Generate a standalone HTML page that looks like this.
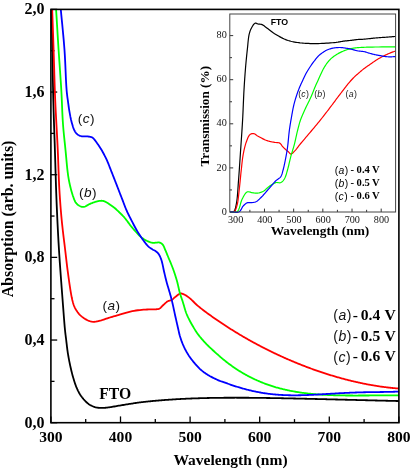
<!DOCTYPE html>
<html><head><meta charset="utf-8"><style>
html,body{margin:0;padding:0;background:#fff;width:412px;height:469px;overflow:hidden;}
svg{display:block;will-change:transform;}
</style></head><body>
<svg width="412" height="469" viewBox="0 0 412 469">
<line x1="50.90" y1="422.7" x2="50.90" y2="416.40" stroke="#000" stroke-width="1.3"/>
<line x1="85.70" y1="422.7" x2="85.70" y2="419.10" stroke="#000" stroke-width="1.3"/>
<line x1="120.50" y1="422.7" x2="120.50" y2="416.40" stroke="#000" stroke-width="1.3"/>
<line x1="155.30" y1="422.7" x2="155.30" y2="419.10" stroke="#000" stroke-width="1.3"/>
<line x1="190.10" y1="422.7" x2="190.10" y2="416.40" stroke="#000" stroke-width="1.3"/>
<line x1="224.90" y1="422.7" x2="224.90" y2="419.10" stroke="#000" stroke-width="1.3"/>
<line x1="259.70" y1="422.7" x2="259.70" y2="416.40" stroke="#000" stroke-width="1.3"/>
<line x1="294.50" y1="422.7" x2="294.50" y2="419.10" stroke="#000" stroke-width="1.3"/>
<line x1="329.30" y1="422.7" x2="329.30" y2="416.40" stroke="#000" stroke-width="1.3"/>
<line x1="364.10" y1="422.7" x2="364.10" y2="419.10" stroke="#000" stroke-width="1.3"/>
<line x1="398.90" y1="422.7" x2="398.90" y2="416.40" stroke="#000" stroke-width="1.3"/>
<line x1="50.9" y1="422.70" x2="57.20" y2="422.70" stroke="#000" stroke-width="1.3"/>
<line x1="50.9" y1="381.37" x2="54.50" y2="381.37" stroke="#000" stroke-width="1.3"/>
<line x1="50.9" y1="340.04" x2="57.20" y2="340.04" stroke="#000" stroke-width="1.3"/>
<line x1="50.9" y1="298.71" x2="54.50" y2="298.71" stroke="#000" stroke-width="1.3"/>
<line x1="50.9" y1="257.38" x2="57.20" y2="257.38" stroke="#000" stroke-width="1.3"/>
<line x1="50.9" y1="216.05" x2="54.50" y2="216.05" stroke="#000" stroke-width="1.3"/>
<line x1="50.9" y1="174.72" x2="57.20" y2="174.72" stroke="#000" stroke-width="1.3"/>
<line x1="50.9" y1="133.39" x2="54.50" y2="133.39" stroke="#000" stroke-width="1.3"/>
<line x1="50.9" y1="92.06" x2="57.20" y2="92.06" stroke="#000" stroke-width="1.3"/>
<line x1="50.9" y1="50.73" x2="54.50" y2="50.73" stroke="#000" stroke-width="1.3"/>
<line x1="50.9" y1="9.40" x2="57.20" y2="9.40" stroke="#000" stroke-width="1.3"/>
<path d="M51.60,9.50 L51.70,14.53 L51.80,19.53 L51.90,24.50 L52.00,29.48 L52.10,34.50 L52.20,39.58 L52.30,44.73 L52.40,50.00 L52.51,56.00 L52.61,62.13 L52.71,68.36 L52.81,74.67 L52.91,81.02 L53.03,87.38 L53.15,93.71 L53.30,100.00 L53.47,106.25 L53.65,112.50 L53.85,118.75 L54.06,125.00 L54.27,131.25 L54.48,137.50 L54.70,143.75 L54.90,150.00 L55.09,156.26 L55.28,162.52 L55.46,168.78 L55.65,175.05 L55.84,181.31 L56.04,187.55 L56.26,193.79 L56.50,200.00 L56.75,206.09 L57.02,212.14 L57.29,218.18 L57.58,224.21 L57.88,230.24 L58.20,236.29 L58.54,242.37 L58.90,248.50 L59.31,254.96 L59.75,261.59 L60.22,268.31 L60.71,275.02 L61.20,281.63 L61.69,288.06 L62.16,294.21 L62.60,300.00 L62.92,304.25 L63.24,308.44 L63.55,312.55 L63.85,316.51 L64.15,320.28 L64.44,323.82 L64.72,327.08 L65.00,330.00 L65.16,331.50 L65.31,332.85 L65.45,334.09 L65.60,335.26 L65.74,336.40 L65.89,337.54 L66.04,338.73 L66.20,340.00 L66.38,341.53 L66.56,343.09 L66.75,344.69 L66.93,346.31 L67.13,347.94 L67.34,349.57 L67.56,351.19 L67.80,352.80 L68.06,354.40 L68.33,356.01 L68.61,357.61 L68.90,359.21 L69.21,360.81 L69.53,362.41 L69.86,364.01 L70.20,365.60 L70.56,367.20 L70.92,368.81 L71.30,370.42 L71.69,372.02 L72.09,373.61 L72.51,375.20 L72.95,376.76 L73.40,378.30 L73.85,379.76 L74.30,381.22 L74.77,382.67 L75.25,384.10 L75.75,385.51 L76.27,386.88 L76.82,388.22 L77.40,389.50 L77.93,390.60 L78.48,391.66 L79.04,392.70 L79.62,393.71 L80.23,394.69 L80.86,395.65 L81.51,396.58 L82.20,397.50 L82.91,398.39 L83.64,399.27 L84.41,400.14 L85.19,400.98 L86.00,401.78 L86.82,402.54 L87.66,403.25 L88.50,403.90 L89.27,404.43 L90.06,404.92 L90.87,405.38 L91.68,405.80 L92.50,406.18 L93.31,406.53 L94.12,406.83 L94.90,407.10 L95.55,407.29 L96.20,407.45 L96.84,407.57 L97.47,407.67 L98.10,407.74 L98.73,407.81 L99.37,407.86 L100.00,407.90 L100.63,407.93 L101.25,407.95 L101.88,407.95 L102.50,407.94 L103.13,407.91 L103.75,407.88 L104.38,407.84 L105.00,407.80 L105.62,407.75 L106.22,407.70 L106.82,407.63 L107.42,407.56 L108.03,407.48 L108.66,407.39 L109.31,407.30 L110.00,407.20 L110.97,407.05 L112.01,406.88 L113.09,406.69 L114.20,406.49 L115.33,406.29 L116.47,406.09 L117.60,405.89 L118.70,405.70 L119.79,405.52 L120.89,405.34 L121.99,405.16 L123.09,404.99 L124.18,404.81 L125.27,404.64 L126.34,404.47 L127.40,404.30 L128.39,404.14 L129.37,403.98 L130.36,403.83 L131.33,403.67 L132.29,403.52 L133.22,403.37 L134.13,403.23 L135.00,403.10 L135.67,403.00 L136.31,402.90 L136.93,402.81 L137.54,402.72 L138.14,402.63 L138.74,402.55 L139.36,402.46 L140.00,402.38 L140.72,402.29 L141.46,402.20 L142.21,402.11 L142.96,402.03 L143.73,401.95 L144.49,401.86 L145.25,401.78 L146.00,401.70 L146.75,401.62 L147.50,401.54 L148.25,401.47 L149.00,401.39 L149.75,401.31 L150.50,401.24 L151.25,401.16 L152.00,401.09 L152.75,401.02 L153.50,400.95 L154.25,400.88 L155.00,400.81 L155.75,400.74 L156.50,400.68 L157.25,400.61 L158.00,400.55 L158.75,400.48 L159.50,400.42 L160.25,400.36 L161.00,400.30 L161.75,400.24 L162.50,400.18 L163.25,400.12 L164.00,400.06 L164.75,400.00 L165.50,399.95 L166.25,399.89 L167.00,399.84 L167.75,399.78 L168.50,399.73 L169.25,399.68 L170.00,399.63 L170.75,399.58 L171.50,399.53 L172.25,399.48 L173.00,399.44 L173.75,399.39 L174.50,399.34 L175.25,399.30 L176.00,399.25 L176.75,399.21 L177.50,399.17 L178.25,399.12 L179.00,399.08 L179.75,399.04 L180.50,399.00 L181.25,398.96 L182.00,398.93 L182.75,398.89 L183.50,398.85 L184.25,398.82 L185.00,398.78 L185.75,398.75 L186.50,398.71 L187.25,398.68 L188.00,398.65 L188.75,398.61 L189.50,398.58 L190.25,398.55 L191.00,398.52 L191.75,398.49 L192.50,398.46 L193.25,398.44 L194.00,398.41 L194.75,398.38 L195.50,398.36 L196.25,398.33 L197.00,398.30 L197.75,398.28 L198.50,398.26 L199.25,398.23 L200.00,398.21 L200.75,398.19 L201.50,398.17 L202.25,398.15 L203.00,398.13 L203.75,398.11 L204.50,398.09 L205.25,398.07 L206.00,398.05 L206.75,398.03 L207.50,398.02 L208.25,398.00 L209.00,397.99 L209.75,397.97 L210.50,397.96 L211.25,397.94 L212.00,397.93 L212.75,397.91 L213.50,397.90 L214.25,397.89 L215.00,397.88 L215.75,397.87 L216.50,397.86 L217.25,397.84 L218.00,397.83 L218.75,397.83 L219.50,397.82 L220.25,397.81 L221.00,397.80 L221.75,397.79 L222.50,397.79 L223.25,397.78 L224.00,397.77 L224.75,397.77 L225.50,397.76 L226.25,397.76 L227.00,397.75 L227.75,397.75 L228.50,397.74 L229.25,397.74 L230.00,397.74 L230.75,397.73 L231.50,397.73 L232.25,397.73 L233.00,397.73 L233.75,397.73 L234.50,397.73 L235.25,397.72 L236.00,397.72 L236.75,397.73 L237.50,397.73 L238.25,397.73 L239.00,397.73 L239.75,397.73 L240.50,397.73 L241.25,397.73 L242.00,397.74 L242.75,397.74 L243.50,397.74 L244.25,397.75 L245.00,397.75 L245.75,397.75 L246.50,397.76 L247.25,397.76 L248.00,397.77 L248.75,397.77 L249.50,397.78 L250.25,397.78 L251.00,397.79 L251.75,397.80 L252.50,397.80 L253.25,397.81 L254.00,397.82 L254.75,397.82 L255.50,397.83 L256.25,397.84 L257.00,397.85 L257.75,397.86 L258.50,397.87 L259.25,397.87 L260.00,397.88 L260.75,397.89 L261.50,397.90 L262.25,397.91 L263.00,397.92 L263.75,397.93 L264.50,397.94 L265.25,397.95 L266.00,397.96 L266.75,397.98 L267.50,397.99 L268.25,398.00 L269.00,398.01 L269.75,398.02 L270.50,398.03 L271.25,398.05 L272.00,398.06 L272.75,398.07 L273.50,398.08 L274.25,398.10 L275.00,398.11 L275.75,398.12 L276.50,398.14 L277.25,398.15 L278.00,398.16 L278.75,398.18 L279.50,398.19 L280.25,398.20 L281.00,398.22 L281.75,398.23 L282.50,398.25 L283.25,398.26 L284.00,398.28 L284.75,398.29 L285.50,398.31 L286.25,398.32 L287.00,398.34 L287.75,398.35 L288.50,398.37 L289.25,398.38 L290.00,398.40 L290.75,398.42 L291.50,398.43 L292.25,398.45 L293.00,398.46 L293.75,398.48 L294.50,398.50 L295.25,398.51 L296.00,398.53 L296.75,398.55 L297.50,398.56 L298.25,398.58 L299.00,398.60 L299.75,398.61 L300.50,398.63 L301.25,398.65 L302.00,398.66 L302.75,398.68 L303.50,398.70 L304.25,398.72 L305.00,398.73 L305.75,398.75 L306.50,398.77 L307.25,398.79 L308.00,398.80 L308.75,398.82 L309.50,398.84 L310.25,398.86 L311.00,398.88 L311.75,398.89 L312.50,398.91 L313.25,398.93 L314.00,398.95 L314.75,398.97 L315.50,398.98 L316.25,399.00 L317.00,399.02 L317.75,399.04 L318.50,399.06 L319.25,399.08 L320.00,399.09 L320.75,399.11 L321.50,399.13 L322.25,399.15 L323.00,399.17 L323.75,399.19 L324.50,399.21 L325.25,399.22 L326.00,399.24 L326.75,399.26 L327.50,399.28 L328.25,399.30 L329.00,399.32 L329.75,399.34 L330.50,399.35 L331.25,399.37 L332.00,399.39 L332.75,399.41 L333.50,399.43 L334.25,399.45 L335.00,399.47 L335.75,399.49 L336.50,399.50 L337.25,399.52 L338.00,399.54 L338.75,399.56 L339.50,399.58 L340.25,399.60 L341.00,399.62 L341.75,399.64 L342.50,399.66 L343.25,399.67 L344.00,399.69 L344.75,399.71 L345.50,399.73 L346.25,399.75 L347.00,399.77 L347.75,399.79 L348.50,399.81 L349.25,399.82 L350.00,399.84 L350.75,399.86 L351.50,399.88 L352.25,399.90 L353.00,399.92 L353.75,399.94 L354.50,399.96 L355.25,399.97 L356.00,399.99 L356.75,400.01 L357.50,400.03 L358.25,400.05 L359.00,400.07 L359.75,400.09 L360.50,400.11 L361.25,400.12 L362.00,400.14 L362.75,400.16 L363.50,400.18 L364.25,400.20 L365.00,400.22 L365.75,400.24 L366.50,400.25 L367.25,400.27 L368.00,400.29 L368.75,400.31 L369.50,400.33 L370.25,400.35 L371.00,400.37 L371.75,400.38 L372.50,400.40 L373.25,400.42 L374.00,400.44 L374.75,400.46 L375.50,400.48 L376.25,400.50 L377.00,400.51 L377.75,400.53 L378.50,400.55 L379.25,400.57 L380.00,400.59 L380.75,400.61 L381.50,400.63 L382.25,400.64 L383.00,400.66 L383.75,400.68 L384.50,400.70 L385.25,400.72 L386.00,400.74 L386.75,400.76 L387.50,400.77 L388.25,400.79 L389.00,400.81 L389.75,400.83 L390.50,400.85 L391.25,400.87 L392.00,400.89 L392.79,400.91 L393.62,400.93 L394.48,400.95 L395.33,400.97 L396.14,400.99 L396.87,401.01 L397.50,401.02 L398.00,401.04 L398.15,401.04 L398.28,401.04 L398.40,401.05 L398.50,401.05 L398.60,401.05 L398.69,401.05 L398.79,401.05 L398.90,401.06" fill="none" stroke="#000" stroke-width="1.8" stroke-linejoin="round"/>
<path d="M52.20,9.50 L52.37,14.53 L52.55,19.53 L52.72,24.50 L52.90,29.48 L53.07,34.50 L53.25,39.58 L53.42,44.73 L53.60,50.00 L53.79,56.00 L53.97,62.15 L54.16,68.40 L54.34,74.72 L54.53,81.08 L54.73,87.43 L54.95,93.75 L55.20,100.00 L55.47,106.12 L55.78,112.27 L56.10,118.41 L56.44,124.53 L56.77,130.62 L57.10,136.66 L57.41,142.62 L57.70,148.50 L57.93,153.89 L58.14,159.26 L58.33,164.60 L58.52,169.87 L58.71,175.07 L58.91,180.18 L59.14,185.16 L59.40,190.00 L59.64,193.99 L59.89,197.86 L60.16,201.64 L60.43,205.36 L60.72,209.03 L61.03,212.67 L61.35,216.32 L61.70,220.00 L62.06,223.60 L62.45,227.17 L62.85,230.73 L63.27,234.28 L63.70,237.82 L64.13,241.37 L64.57,244.93 L65.00,248.50 L65.43,252.16 L65.87,255.87 L66.30,259.60 L66.74,263.33 L67.19,267.03 L67.65,270.67 L68.12,274.24 L68.60,277.70 L69.03,280.72 L69.48,283.78 L69.93,286.83 L70.39,289.81 L70.85,292.68 L71.33,295.37 L71.81,297.82 L72.30,300.00 L72.58,301.12 L72.84,302.13 L73.09,303.07 L73.36,303.94 L73.64,304.78 L73.95,305.61 L74.30,306.44 L74.70,307.30 L75.18,308.25 L75.70,309.21 L76.26,310.17 L76.86,311.11 L77.49,312.03 L78.16,312.93 L78.86,313.79 L79.60,314.60 L80.39,315.38 L81.24,316.15 L82.13,316.88 L83.06,317.59 L84.00,318.25 L84.95,318.86 L85.88,319.41 L86.80,319.90 L87.56,320.27 L88.31,320.61 L89.06,320.91 L89.81,321.18 L90.56,321.40 L91.33,321.58 L92.11,321.72 L92.90,321.80 L93.77,321.82 L94.65,321.77 L95.54,321.65 L96.45,321.49 L97.36,321.30 L98.29,321.07 L99.24,320.84 L100.20,320.60 L101.35,320.30 L102.54,319.95 L103.75,319.56 L104.97,319.15 L106.21,318.72 L107.44,318.30 L108.68,317.89 L109.90,317.50 L111.10,317.14 L112.28,316.79 L113.45,316.44 L114.62,316.10 L115.82,315.76 L117.04,315.42 L118.29,315.07 L119.60,314.70 L121.27,314.22 L123.01,313.70 L124.81,313.17 L126.65,312.63 L128.51,312.10 L130.39,311.61 L132.25,311.17 L134.10,310.80 L135.95,310.50 L137.85,310.24 L139.77,310.03 L141.69,309.86 L143.58,309.71 L145.39,309.59 L147.11,309.49 L148.70,309.40 L149.75,309.36 L150.76,309.35 L151.74,309.36 L152.67,309.37 L153.57,309.38 L154.42,309.38 L155.23,309.36 L156.00,309.30 L156.50,309.25 L156.98,309.21 L157.43,309.16 L157.87,309.10 L158.28,309.03 L158.69,308.92 L159.10,308.78 L159.50,308.60 L159.94,308.33 L160.35,308.01 L160.75,307.63 L161.14,307.23 L161.53,306.80 L161.93,306.36 L162.35,305.92 L162.80,305.50 L163.38,304.97 L164.00,304.40 L164.63,303.80 L165.29,303.20 L165.95,302.62 L166.61,302.08 L167.27,301.60 L167.90,301.20 L168.38,300.96 L168.87,300.78 L169.35,300.65 L169.83,300.53 L170.30,300.42 L170.77,300.29 L171.24,300.12 L171.70,299.90 L172.20,299.59 L172.68,299.22 L173.16,298.82 L173.63,298.40 L174.10,297.96 L174.58,297.52 L175.08,297.10 L175.60,296.70 L176.19,296.25 L176.81,295.75 L177.44,295.24 L178.08,294.75 L178.73,294.30 L179.39,293.92 L180.04,293.64 L180.70,293.50 L181.33,293.50 L181.97,293.60 L182.61,293.79 L183.26,294.05 L183.90,294.36 L184.55,294.70 L185.18,295.06 L185.80,295.40 L186.46,295.78 L187.10,296.19 L187.74,296.64 L188.37,297.11 L189.00,297.61 L189.63,298.12 L190.26,298.66 L190.90,299.20 L191.63,299.85 L192.36,300.54 L193.09,301.26 L193.81,302.00 L194.56,302.76 L195.31,303.51 L196.09,304.26 L196.90,305.00 L197.85,305.82 L198.85,306.66 L199.88,307.50 L200.92,308.33 L201.98,309.16 L203.02,309.97 L204.03,310.75 L205.00,311.49 L205.79,312.09 L206.55,312.65 L207.31,313.20 L208.05,313.74 L208.78,314.27 L209.52,314.79 L210.25,315.31 L211.00,315.84 L211.75,316.37 L212.50,316.90 L213.25,317.43 L214.00,317.96 L214.75,318.48 L215.50,319.00 L216.25,319.52 L217.00,320.04 L217.75,320.55 L218.50,321.06 L219.25,321.57 L220.00,322.07 L220.75,322.58 L221.50,323.08 L222.25,323.58 L223.00,324.08 L223.75,324.57 L224.50,325.06 L225.25,325.55 L226.00,326.04 L226.75,326.53 L227.50,327.01 L228.25,327.49 L229.00,327.97 L229.75,328.45 L230.50,328.92 L231.25,329.39 L232.00,329.86 L232.75,330.33 L233.50,330.80 L234.25,331.26 L235.00,331.73 L235.75,332.18 L236.50,332.64 L237.25,333.10 L238.00,333.55 L238.75,334.00 L239.50,334.45 L240.25,334.90 L241.00,335.34 L241.75,335.78 L242.50,336.22 L243.25,336.66 L244.00,337.10 L244.75,337.53 L245.50,337.97 L246.25,338.40 L247.00,338.83 L247.75,339.25 L248.50,339.67 L249.25,340.10 L250.00,340.52 L250.75,340.94 L251.50,341.35 L252.25,341.77 L253.00,342.18 L253.75,342.59 L254.50,343.00 L255.25,343.40 L256.00,343.81 L256.75,344.21 L257.50,344.61 L258.25,345.01 L259.00,345.41 L259.75,345.80 L260.50,346.20 L261.25,346.59 L262.00,346.98 L262.75,347.37 L263.50,347.75 L264.25,348.14 L265.00,348.52 L265.75,348.90 L266.50,349.28 L267.25,349.65 L268.00,350.03 L268.75,350.40 L269.50,350.77 L270.25,351.14 L271.00,351.51 L271.75,351.87 L272.50,352.24 L273.25,352.60 L274.00,352.96 L274.75,353.32 L275.50,353.67 L276.25,354.03 L277.00,354.38 L277.75,354.73 L278.50,355.08 L279.25,355.43 L280.00,355.77 L280.75,356.12 L281.50,356.46 L282.25,356.80 L283.00,357.14 L283.75,357.48 L284.50,357.81 L285.25,358.14 L286.00,358.48 L286.75,358.81 L287.50,359.13 L288.25,359.46 L289.00,359.79 L289.75,360.11 L290.50,360.43 L291.25,360.75 L292.00,361.07 L292.75,361.38 L293.50,361.70 L294.25,362.01 L295.00,362.32 L295.75,362.63 L296.50,362.94 L297.25,363.25 L298.00,363.55 L298.75,363.85 L299.50,364.15 L300.25,364.45 L301.00,364.75 L301.75,365.05 L302.50,365.34 L303.25,365.63 L304.00,365.92 L304.75,366.21 L305.50,366.50 L306.25,366.79 L307.00,367.07 L307.75,367.35 L308.50,367.63 L309.25,367.91 L310.00,368.19 L310.75,368.47 L311.50,368.74 L312.25,369.01 L313.00,369.28 L313.75,369.55 L314.50,369.82 L315.25,370.08 L316.00,370.35 L316.75,370.61 L317.50,370.87 L318.25,371.13 L319.00,371.39 L319.75,371.64 L320.50,371.90 L321.25,372.15 L322.00,372.40 L322.75,372.65 L323.50,372.89 L324.25,373.14 L325.00,373.38 L325.75,373.63 L326.50,373.87 L327.25,374.10 L328.00,374.34 L328.75,374.58 L329.50,374.81 L330.25,375.04 L331.00,375.27 L331.75,375.50 L332.50,375.73 L333.25,375.95 L334.00,376.18 L334.75,376.40 L335.50,376.62 L336.25,376.84 L337.00,377.05 L337.75,377.27 L338.50,377.48 L339.25,377.69 L340.00,377.90 L340.75,378.11 L341.50,378.31 L342.25,378.52 L343.00,378.72 L343.75,378.92 L344.50,379.12 L345.25,379.32 L346.00,379.51 L346.75,379.71 L347.50,379.90 L348.25,380.09 L349.00,380.28 L349.75,380.46 L350.50,380.65 L351.25,380.83 L352.00,381.01 L352.75,381.19 L353.50,381.37 L354.25,381.55 L355.00,381.72 L355.75,381.89 L356.50,382.06 L357.25,382.23 L358.00,382.40 L358.75,382.56 L359.50,382.73 L360.25,382.89 L361.00,383.05 L361.75,383.20 L362.50,383.36 L363.25,383.51 L364.00,383.67 L364.75,383.82 L365.50,383.96 L366.25,384.11 L367.00,384.26 L367.75,384.40 L368.50,384.54 L369.25,384.68 L370.00,384.81 L370.75,384.95 L371.50,385.08 L372.25,385.21 L373.00,385.34 L373.75,385.47 L374.50,385.59 L375.25,385.72 L376.00,385.84 L376.75,385.96 L377.50,386.08 L378.25,386.19 L379.00,386.30 L379.75,386.41 L380.50,386.52 L381.25,386.63 L382.00,386.74 L382.75,386.84 L383.50,386.94 L384.25,387.04 L385.00,387.14 L385.75,387.23 L386.50,387.32 L387.25,387.41 L388.00,387.50 L388.75,387.59 L389.50,387.67 L390.25,387.76 L391.00,387.84 L391.77,387.92 L392.58,388.00 L393.40,388.07 L394.21,388.15 L395.00,388.22 L395.74,388.29 L396.41,388.35 L397.00,388.40 L397.29,388.42 L397.55,388.45 L397.79,388.46 L398.02,388.48 L398.23,388.50 L398.45,388.51 L398.67,388.53 L398.90,388.55" fill="none" stroke="#ff0000" stroke-width="1.8" stroke-linejoin="round"/>
<path d="M56.10,9.50 L56.41,14.56 L56.72,19.63 L57.03,24.70 L57.34,29.77 L57.65,34.83 L57.96,39.89 L58.28,44.95 L58.60,50.00 L58.93,55.03 L59.28,60.09 L59.64,65.15 L59.99,70.21 L60.34,75.23 L60.68,80.22 L61.00,85.15 L61.30,90.00 L61.54,94.45 L61.75,98.88 L61.94,103.27 L62.12,107.63 L62.30,111.92 L62.50,116.14 L62.73,120.27 L63.00,124.30 L63.27,127.70 L63.56,131.00 L63.87,134.24 L64.19,137.42 L64.52,140.57 L64.85,143.70 L65.18,146.84 L65.50,150.00 L65.80,153.16 L66.10,156.40 L66.40,159.67 L66.70,162.91 L67.00,166.08 L67.32,169.11 L67.65,171.97 L68.00,174.60 L68.25,176.27 L68.50,177.83 L68.76,179.31 L69.02,180.73 L69.29,182.11 L69.58,183.46 L69.88,184.82 L70.20,186.20 L70.52,187.53 L70.85,188.86 L71.20,190.19 L71.56,191.50 L71.93,192.79 L72.31,194.04 L72.70,195.25 L73.10,196.40 L73.42,197.31 L73.74,198.21 L74.06,199.08 L74.38,199.93 L74.73,200.74 L75.11,201.51 L75.53,202.23 L76.00,202.90 L76.47,203.45 L76.98,203.97 L77.52,204.47 L78.09,204.92 L78.67,205.34 L79.26,205.71 L79.84,206.03 L80.40,206.30 L80.85,206.48 L81.29,206.64 L81.73,206.77 L82.17,206.87 L82.62,206.93 L83.07,206.96 L83.53,206.95 L84.00,206.90 L84.61,206.75 L85.24,206.49 L85.89,206.16 L86.55,205.78 L87.20,205.38 L87.85,204.98 L88.49,204.61 L89.10,204.30 L89.61,204.07 L90.10,203.85 L90.59,203.64 L91.07,203.44 L91.55,203.25 L92.03,203.07 L92.51,202.88 L93.00,202.70 L93.50,202.52 L94.00,202.34 L94.50,202.16 L95.01,201.99 L95.51,201.83 L96.01,201.67 L96.51,201.53 L97.00,201.40 L97.45,201.29 L97.89,201.19 L98.34,201.10 L98.78,201.01 L99.21,200.94 L99.65,200.88 L100.08,200.83 L100.50,200.80 L100.89,200.78 L101.27,200.77 L101.64,200.77 L102.02,200.78 L102.39,200.81 L102.76,200.85 L103.13,200.92 L103.50,201.00 L103.90,201.12 L104.30,201.27 L104.70,201.44 L105.09,201.63 L105.49,201.83 L105.89,202.05 L106.29,202.27 L106.70,202.50 L107.17,202.77 L107.64,203.06 L108.11,203.37 L108.59,203.68 L109.07,204.01 L109.55,204.34 L110.02,204.67 L110.50,205.00 L110.99,205.33 L111.47,205.66 L111.96,206.00 L112.44,206.33 L112.93,206.68 L113.42,207.04 L113.91,207.41 L114.40,207.80 L114.97,208.27 L115.54,208.76 L116.11,209.27 L116.68,209.80 L117.26,210.33 L117.84,210.88 L118.42,211.44 L119.00,212.00 L119.63,212.61 L120.28,213.23 L120.92,213.86 L121.57,214.51 L122.21,215.16 L122.85,215.83 L123.48,216.51 L124.10,217.20 L124.75,217.97 L125.42,218.79 L126.08,219.63 L126.74,220.49 L127.37,221.32 L127.97,222.12 L128.51,222.85 L129.00,223.50 L129.25,223.83 L129.46,224.13 L129.66,224.40 L129.84,224.66 L130.02,224.91 L130.22,225.18 L130.44,225.47 L130.70,225.80 L131.21,226.44 L131.80,227.16 L132.45,227.94 L133.14,228.76 L133.86,229.59 L134.58,230.43 L135.30,231.24 L136.00,232.00 L136.66,232.72 L137.32,233.43 L137.98,234.15 L138.65,234.85 L139.33,235.54 L140.01,236.19 L140.70,236.82 L141.40,237.40 L142.04,237.89 L142.69,238.36 L143.35,238.80 L144.01,239.22 L144.68,239.62 L145.35,240.00 L146.02,240.36 L146.70,240.70 L147.35,241.02 L148.02,241.33 L148.70,241.63 L149.37,241.91 L150.04,242.16 L150.71,242.38 L151.36,242.56 L152.00,242.70 L152.52,242.77 L153.04,242.81 L153.54,242.82 L154.05,242.81 L154.54,242.78 L155.03,242.75 L155.52,242.72 L156.00,242.70 L156.44,242.67 L156.88,242.61 L157.31,242.55 L157.74,242.48 L158.16,242.43 L158.58,242.41 L158.99,242.43 L159.40,242.50 L159.84,242.63 L160.28,242.81 L160.71,243.03 L161.14,243.28 L161.56,243.56 L161.96,243.88 L162.34,244.23 L162.70,244.60 L163.09,245.10 L163.44,245.67 L163.76,246.30 L164.05,246.96 L164.33,247.66 L164.61,248.37 L164.90,249.09 L165.20,249.80 L165.57,250.63 L165.93,251.47 L166.29,252.33 L166.65,253.21 L167.02,254.11 L167.40,255.05 L167.79,256.01 L168.20,257.00 L168.75,258.33 L169.34,259.74 L169.96,261.20 L170.59,262.71 L171.22,264.23 L171.84,265.77 L172.43,267.30 L173.00,268.80 L173.53,270.27 L174.06,271.75 L174.56,273.22 L175.06,274.70 L175.54,276.19 L176.01,277.68 L176.46,279.18 L176.90,280.70 L177.33,282.29 L177.73,283.94 L178.12,285.60 L178.49,287.27 L178.86,288.92 L179.23,290.52 L179.61,292.06 L180.00,293.50 L180.31,294.55 L180.63,295.52 L180.94,296.45 L181.26,297.36 L181.59,298.26 L181.91,299.18 L182.25,300.16 L182.60,301.20 L183.05,302.66 L183.51,304.21 L183.98,305.84 L184.45,307.51 L184.95,309.19 L185.47,310.85 L186.02,312.46 L186.60,314.00 L187.17,315.35 L187.75,316.66 L188.36,317.95 L189.00,319.21 L189.65,320.46 L190.32,321.71 L191.00,322.95 L191.70,324.20 L192.43,325.50 L193.19,326.80 L193.95,328.10 L194.74,329.39 L195.55,330.67 L196.38,331.94 L197.23,333.18 L198.10,334.40 L199.00,335.59 L199.93,336.77 L200.89,337.93 L201.87,339.08 L202.86,340.20 L203.85,341.30 L204.83,342.36 L205.80,343.40 L206.65,344.29 L207.51,345.16 L208.36,346.00 L209.21,346.82 L210.06,347.63 L210.90,348.42 L211.75,349.21 L212.60,350.00 L213.43,350.77 L214.29,351.54 L215.15,352.32 L216.01,353.08 L216.85,353.82 L217.66,354.53 L218.41,355.19 L219.10,355.80 L219.51,356.16 L219.88,356.49 L220.22,356.80 L220.55,357.09 L220.88,357.38 L221.22,357.67 L221.59,357.99 L222.00,358.33 L222.64,358.87 L223.34,359.44 L224.08,360.04 L224.85,360.66 L225.64,361.29 L226.44,361.92 L227.23,362.54 L228.00,363.13 L228.74,363.69 L229.49,364.25 L230.24,364.80 L230.99,365.34 L231.74,365.88 L232.49,366.42 L233.24,366.94 L234.00,367.47 L234.74,367.97 L235.49,368.48 L236.24,368.97 L236.99,369.47 L237.74,369.95 L238.49,370.43 L239.24,370.91 L240.00,371.38 L240.75,371.83 L241.49,372.29 L242.24,372.73 L242.99,373.17 L243.74,373.61 L244.49,374.04 L245.25,374.47 L246.00,374.89 L246.75,375.30 L247.49,375.70 L248.24,376.10 L248.99,376.49 L249.74,376.88 L250.49,377.27 L251.25,377.65 L252.00,378.02 L252.75,378.38 L253.49,378.74 L254.24,379.10 L254.99,379.45 L255.74,379.80 L256.49,380.14 L257.25,380.47 L258.00,380.80 L258.75,381.13 L259.49,381.45 L260.24,381.76 L260.99,382.07 L261.74,382.37 L262.50,382.67 L263.25,382.97 L264.00,383.26 L264.75,383.55 L265.50,383.83 L266.24,384.10 L266.99,384.37 L267.74,384.64 L268.50,384.90 L269.25,385.16 L270.00,385.42 L270.75,385.67 L271.50,385.91 L272.25,386.15 L273.00,386.39 L273.75,386.62 L274.50,386.85 L275.25,387.07 L276.00,387.30 L276.75,387.51 L277.50,387.72 L278.25,387.93 L279.00,388.14 L279.75,388.34 L280.50,388.53 L281.25,388.73 L282.00,388.92 L282.75,389.10 L283.50,389.28 L284.25,389.46 L285.00,389.64 L285.75,389.81 L286.50,389.98 L287.25,390.14 L288.00,390.30 L288.75,390.46 L289.50,390.62 L290.25,390.77 L291.00,390.91 L291.75,391.06 L292.50,391.20 L293.25,391.34 L294.00,391.48 L294.75,391.61 L295.50,391.74 L296.25,391.86 L297.00,391.99 L297.75,392.11 L298.50,392.23 L299.25,392.34 L300.00,392.46 L300.75,392.57 L301.50,392.67 L302.25,392.78 L303.00,392.88 L303.75,392.98 L304.50,393.07 L305.25,393.17 L306.00,393.26 L306.75,393.35 L307.50,393.44 L308.25,393.52 L309.00,393.60 L309.75,393.68 L310.50,393.76 L311.25,393.84 L312.00,393.91 L312.75,393.98 L313.50,394.05 L314.25,394.12 L315.00,394.18 L315.75,394.25 L316.50,394.31 L317.25,394.37 L318.00,394.42 L318.75,394.48 L319.50,394.53 L320.25,394.58 L321.00,394.63 L321.75,394.68 L322.50,394.73 L323.25,394.77 L324.00,394.81 L324.75,394.86 L325.50,394.90 L326.25,394.93 L327.00,394.97 L327.75,395.01 L328.50,395.04 L329.25,395.07 L330.00,395.10 L330.75,395.13 L331.50,395.16 L332.25,395.19 L333.00,395.21 L333.75,395.24 L334.50,395.26 L335.25,395.28 L336.00,395.30 L336.75,395.32 L337.50,395.34 L338.25,395.36 L339.00,395.38 L339.75,395.39 L340.50,395.41 L341.25,395.42 L342.00,395.43 L342.75,395.44 L343.50,395.46 L344.25,395.46 L345.00,395.47 L345.75,395.48 L346.50,395.49 L347.25,395.50 L348.00,395.50 L348.75,395.51 L349.50,395.51 L350.25,395.52 L351.00,395.52 L351.75,395.52 L352.50,395.52 L353.25,395.53 L354.00,395.53 L354.75,395.53 L355.50,395.53 L356.25,395.53 L357.00,395.53 L357.75,395.53 L358.50,395.52 L359.25,395.52 L360.00,395.52 L360.75,395.52 L361.50,395.52 L362.25,395.51 L363.00,395.51 L363.75,395.51 L364.50,395.50 L365.25,395.50 L366.00,395.49 L366.75,395.49 L367.50,395.49 L368.25,395.48 L369.00,395.48 L369.75,395.47 L370.50,395.47 L371.25,395.46 L372.00,395.46 L372.75,395.45 L373.50,395.45 L374.25,395.45 L375.00,395.44 L375.75,395.44 L376.50,395.43 L377.25,395.43 L378.00,395.43 L378.75,395.42 L379.50,395.42 L380.25,395.42 L381.00,395.41 L381.75,395.41 L382.50,395.41 L383.25,395.41 L384.00,395.41 L384.75,395.41 L385.50,395.40 L386.25,395.40 L387.00,395.40 L387.75,395.40 L388.50,395.40 L389.25,395.41 L390.00,395.41 L390.76,395.41 L391.55,395.41 L392.34,395.42 L393.13,395.42 L393.91,395.43 L394.65,395.43 L395.35,395.43 L396.00,395.44 L396.41,395.44 L396.80,395.45 L397.16,395.45 L397.52,395.45 L397.86,395.46 L398.20,395.46 L398.54,395.46 L398.90,395.47" fill="none" stroke="#00ff00" stroke-width="1.8" stroke-linejoin="round"/>
<path d="M60.80,9.50 L61.27,14.56 L61.76,19.63 L62.26,24.70 L62.75,29.76 L63.23,34.83 L63.69,39.89 L64.11,44.95 L64.50,50.00 L64.83,55.17 L65.12,60.58 L65.37,66.07 L65.61,71.52 L65.83,76.77 L66.07,81.70 L66.32,86.15 L66.60,90.00 L66.76,91.79 L66.93,93.41 L67.10,94.90 L67.28,96.29 L67.45,97.61 L67.63,98.92 L67.81,100.23 L68.00,101.60 L68.17,102.91 L68.35,104.20 L68.52,105.48 L68.70,106.75 L68.89,108.01 L69.08,109.27 L69.28,110.53 L69.50,111.80 L69.73,113.08 L69.96,114.37 L70.20,115.67 L70.44,116.96 L70.71,118.24 L70.98,119.52 L71.28,120.77 L71.60,122.00 L71.92,123.17 L72.25,124.36 L72.60,125.55 L72.96,126.72 L73.34,127.85 L73.74,128.92 L74.16,129.91 L74.60,130.80 L74.92,131.36 L75.25,131.89 L75.58,132.38 L75.92,132.84 L76.28,133.27 L76.66,133.67 L77.07,134.05 L77.50,134.40 L77.97,134.73 L78.47,135.04 L79.00,135.32 L79.55,135.58 L80.11,135.81 L80.67,136.00 L81.24,136.17 L81.80,136.30 L82.34,136.38 L82.89,136.41 L83.45,136.41 L84.01,136.38 L84.56,136.34 L85.12,136.30 L85.66,136.29 L86.20,136.30 L86.69,136.34 L87.19,136.38 L87.68,136.43 L88.17,136.48 L88.65,136.55 L89.11,136.62 L89.56,136.71 L90.00,136.80 L90.35,136.88 L90.69,136.95 L91.01,137.02 L91.33,137.11 L91.64,137.21 L91.96,137.33 L92.27,137.49 L92.60,137.70 L93.11,138.11 L93.63,138.63 L94.16,139.23 L94.68,139.89 L95.21,140.59 L95.74,141.33 L96.27,142.07 L96.80,142.80 L97.43,143.67 L98.07,144.57 L98.72,145.49 L99.37,146.45 L100.01,147.43 L100.65,148.44 L101.28,149.46 L101.90,150.50 L102.58,151.70 L103.27,152.95 L103.95,154.23 L104.62,155.54 L105.28,156.85 L105.92,158.16 L106.52,159.45 L107.10,160.70 L107.58,161.79 L108.03,162.86 L108.46,163.93 L108.87,164.98 L109.28,166.03 L109.68,167.08 L110.08,168.14 L110.50,169.20 L110.92,170.26 L111.34,171.32 L111.76,172.37 L112.18,173.43 L112.60,174.49 L113.02,175.57 L113.46,176.67 L113.90,177.80 L114.42,179.12 L114.94,180.48 L115.48,181.86 L116.02,183.27 L116.57,184.69 L117.12,186.10 L117.66,187.51 L118.20,188.90 L118.73,190.26 L119.25,191.61 L119.78,192.96 L120.30,194.30 L120.82,195.65 L121.35,197.00 L121.87,198.35 L122.40,199.70 L122.93,201.07 L123.45,202.45 L123.97,203.83 L124.49,205.22 L125.01,206.60 L125.56,207.97 L126.12,209.34 L126.70,210.70 L127.31,212.06 L127.95,213.41 L128.61,214.76 L129.27,216.10 L129.95,217.44 L130.64,218.77 L131.32,220.09 L132.00,221.40 L132.66,222.68 L133.33,223.96 L133.99,225.24 L134.66,226.51 L135.34,227.77 L136.02,229.00 L136.71,230.22 L137.40,231.40 L138.04,232.46 L138.69,233.50 L139.35,234.52 L140.01,235.53 L140.67,236.52 L141.34,237.49 L142.02,238.45 L142.70,239.40 L143.35,240.30 L144.01,241.21 L144.67,242.11 L145.34,243.00 L146.01,243.85 L146.67,244.67 L147.34,245.42 L148.00,246.10 L148.50,246.57 L149.00,246.99 L149.50,247.39 L149.99,247.75 L150.49,248.10 L150.99,248.44 L151.49,248.77 L152.00,249.10 L152.50,249.41 L153.01,249.70 L153.54,249.97 L154.06,250.24 L154.57,250.51 L155.07,250.79 L155.55,251.08 L156.00,251.40 L156.38,251.70 L156.75,252.00 L157.10,252.30 L157.44,252.61 L157.77,252.95 L158.08,253.30 L158.39,253.68 L158.70,254.10 L159.09,254.69 L159.45,255.33 L159.81,256.01 L160.15,256.74 L160.47,257.50 L160.79,258.30 L161.10,259.13 L161.40,260.00 L161.79,261.27 L162.15,262.65 L162.50,264.11 L162.82,265.63 L163.14,267.18 L163.45,268.73 L163.77,270.24 L164.10,271.70 L164.41,273.03 L164.72,274.34 L165.03,275.65 L165.33,276.94 L165.64,278.23 L165.96,279.50 L166.27,280.76 L166.60,282.00 L166.91,283.15 L167.23,284.27 L167.56,285.39 L167.89,286.49 L168.22,287.59 L168.55,288.69 L168.88,289.79 L169.20,290.90 L169.52,292.01 L169.83,293.09 L170.14,294.16 L170.45,295.24 L170.76,296.34 L171.07,297.48 L171.38,298.66 L171.70,299.90 L172.12,301.63 L172.55,303.49 L172.98,305.43 L173.42,307.43 L173.85,309.44 L174.28,311.43 L174.69,313.36 L175.10,315.20 L175.44,316.72 L175.77,318.21 L176.10,319.66 L176.42,321.09 L176.74,322.51 L177.05,323.91 L177.38,325.31 L177.70,326.70 L178.00,328.02 L178.29,329.32 L178.58,330.62 L178.86,331.90 L179.16,333.18 L179.48,334.46 L179.82,335.73 L180.20,337.00 L180.61,338.29 L181.05,339.59 L181.50,340.89 L181.98,342.18 L182.48,343.46 L183.00,344.72 L183.54,345.97 L184.10,347.20 L184.67,348.37 L185.25,349.53 L185.86,350.67 L186.48,351.80 L187.13,352.92 L187.80,354.02 L188.49,355.12 L189.20,356.20 L189.96,357.30 L190.75,358.40 L191.57,359.49 L192.41,360.57 L193.26,361.62 L194.12,362.65 L194.96,363.65 L195.80,364.60 L196.52,365.40 L197.22,366.17 L197.92,366.92 L198.63,367.65 L199.34,368.35 L200.07,369.05 L200.82,369.73 L201.60,370.40 L202.44,371.09 L203.30,371.76 L204.17,372.41 L205.07,373.04 L205.99,373.67 L206.93,374.29 L207.90,374.90 L208.90,375.50 L210.09,376.19 L211.37,376.89 L212.69,377.58 L214.03,378.26 L215.37,378.91 L216.68,379.53 L217.93,380.09 L219.10,380.60 L219.90,380.93 L220.67,381.22 L221.41,381.48 L222.13,381.72 L222.85,381.95 L223.55,382.18 L224.27,382.42 L225.00,382.67 L225.75,382.93 L226.50,383.20 L227.25,383.47 L228.00,383.73 L228.75,384.00 L229.50,384.26 L230.25,384.53 L231.00,384.79 L231.75,385.04 L232.50,385.29 L233.25,385.54 L234.00,385.79 L234.75,386.03 L235.50,386.28 L236.25,386.52 L237.00,386.75 L237.75,386.99 L238.50,387.22 L239.25,387.44 L240.00,387.67 L240.75,387.89 L241.50,388.11 L242.25,388.33 L243.00,388.54 L243.75,388.75 L244.50,388.95 L245.25,389.16 L246.00,389.36 L246.75,389.55 L247.50,389.75 L248.25,389.94 L249.00,390.12 L249.75,390.31 L250.50,390.49 L251.25,390.66 L252.00,390.84 L252.75,391.01 L253.50,391.17 L254.25,391.34 L255.00,391.49 L255.75,391.65 L256.50,391.80 L257.25,391.95 L258.00,392.10 L258.75,392.24 L259.50,392.38 L260.25,392.51 L261.00,392.64 L261.75,392.77 L262.50,392.90 L263.25,393.02 L264.00,393.14 L264.75,393.25 L265.50,393.36 L266.25,393.47 L267.00,393.57 L267.75,393.67 L268.50,393.77 L269.25,393.87 L270.00,393.96 L270.75,394.04 L271.50,394.13 L272.25,394.21 L273.00,394.29 L273.75,394.36 L274.50,394.43 L275.25,394.50 L276.00,394.57 L276.75,394.63 L277.50,394.69 L278.25,394.75 L279.00,394.80 L279.75,394.85 L280.50,394.90 L281.25,394.94 L282.00,394.98 L282.75,395.02 L283.50,395.06 L284.25,395.09 L285.00,395.12 L285.75,395.15 L286.50,395.18 L287.25,395.20 L288.00,395.22 L288.75,395.24 L289.50,395.26 L290.25,395.27 L291.00,395.28 L291.75,395.29 L292.50,395.30 L293.25,395.30 L294.00,395.30 L294.75,395.30 L295.50,395.30 L296.25,395.29 L297.00,395.29 L297.75,395.28 L298.50,395.27 L299.25,395.26 L300.00,395.25 L300.75,395.23 L301.50,395.21 L302.25,395.19 L303.00,395.17 L303.75,395.15 L304.50,395.13 L305.25,395.11 L306.00,395.08 L306.75,395.05 L307.50,395.02 L308.25,394.99 L309.00,394.96 L309.75,394.93 L310.50,394.90 L311.25,394.86 L312.00,394.83 L312.75,394.79 L313.50,394.75 L314.25,394.71 L315.00,394.67 L315.75,394.64 L316.50,394.59 L317.25,394.55 L318.00,394.51 L318.75,394.47 L319.50,394.43 L320.25,394.38 L321.00,394.34 L321.75,394.30 L322.50,394.25 L323.25,394.21 L324.00,394.16 L324.75,394.12 L325.50,394.07 L326.25,394.02 L327.00,393.98 L327.75,393.93 L328.50,393.89 L329.25,393.84 L330.00,393.80 L330.75,393.75 L331.50,393.70 L332.25,393.66 L333.00,393.61 L333.75,393.57 L334.50,393.53 L335.25,393.48 L336.00,393.44 L336.75,393.39 L337.50,393.35 L338.25,393.31 L339.00,393.27 L339.75,393.23 L340.50,393.18 L341.25,393.14 L342.00,393.10 L342.75,393.07 L343.50,393.03 L344.25,392.99 L345.00,392.95 L345.75,392.91 L346.50,392.88 L347.25,392.84 L348.00,392.81 L348.75,392.78 L349.50,392.74 L350.25,392.71 L351.00,392.68 L351.75,392.65 L352.50,392.62 L353.25,392.59 L354.00,392.56 L354.75,392.54 L355.50,392.51 L356.25,392.48 L357.00,392.46 L357.75,392.43 L358.50,392.41 L359.25,392.39 L360.00,392.37 L360.75,392.35 L361.50,392.33 L362.25,392.31 L363.00,392.29 L363.75,392.27 L364.50,392.26 L365.25,392.24 L366.00,392.22 L366.75,392.21 L367.50,392.19 L368.25,392.18 L369.00,392.17 L369.75,392.16 L370.50,392.14 L371.25,392.13 L372.00,392.12 L372.75,392.11 L373.50,392.10 L374.25,392.09 L375.00,392.08 L375.75,392.07 L376.50,392.06 L377.25,392.05 L378.00,392.04 L378.75,392.04 L379.50,392.03 L380.25,392.02 L381.00,392.01 L381.75,392.00 L382.50,391.99 L383.25,391.98 L384.00,391.97 L384.75,391.96 L385.50,391.95 L386.25,391.94 L387.00,391.92 L387.75,391.91 L388.50,391.89 L389.25,391.88 L390.00,391.86 L390.75,391.85 L391.50,391.83 L392.25,391.81 L393.00,391.79 L393.74,391.76 L394.48,391.73 L395.22,391.71 L395.95,391.68 L396.69,391.64 L397.43,391.61 L398.16,391.58 L398.90,391.55" fill="none" stroke="#0000ff" stroke-width="1.8" stroke-linejoin="round"/>
<rect x="50.9" y="9.4" width="348.00" height="413.30" fill="none" stroke="#000" stroke-width="1.6"/>
<line x1="235.30" y1="212.0" x2="235.30" y2="208.60" stroke="#333" stroke-width="1"/>
<line x1="249.89" y1="212.0" x2="249.89" y2="209.80" stroke="#333" stroke-width="1"/>
<line x1="264.48" y1="212.0" x2="264.48" y2="208.60" stroke="#333" stroke-width="1"/>
<line x1="279.07" y1="212.0" x2="279.07" y2="209.80" stroke="#333" stroke-width="1"/>
<line x1="293.66" y1="212.0" x2="293.66" y2="208.60" stroke="#333" stroke-width="1"/>
<line x1="308.25" y1="212.0" x2="308.25" y2="209.80" stroke="#333" stroke-width="1"/>
<line x1="322.84" y1="212.0" x2="322.84" y2="208.60" stroke="#333" stroke-width="1"/>
<line x1="337.43" y1="212.0" x2="337.43" y2="209.80" stroke="#333" stroke-width="1"/>
<line x1="352.02" y1="212.0" x2="352.02" y2="208.60" stroke="#333" stroke-width="1"/>
<line x1="366.61" y1="212.0" x2="366.61" y2="209.80" stroke="#333" stroke-width="1"/>
<line x1="381.20" y1="212.0" x2="381.20" y2="208.60" stroke="#333" stroke-width="1"/>
<line x1="229.8" y1="212.00" x2="233.20" y2="212.00" stroke="#333" stroke-width="1"/>
<line x1="229.8" y1="189.95" x2="232.00" y2="189.95" stroke="#333" stroke-width="1"/>
<line x1="229.8" y1="167.90" x2="233.20" y2="167.90" stroke="#333" stroke-width="1"/>
<line x1="229.8" y1="145.85" x2="232.00" y2="145.85" stroke="#333" stroke-width="1"/>
<line x1="229.8" y1="123.80" x2="233.20" y2="123.80" stroke="#333" stroke-width="1"/>
<line x1="229.8" y1="101.75" x2="232.00" y2="101.75" stroke="#333" stroke-width="1"/>
<line x1="229.8" y1="79.70" x2="233.20" y2="79.70" stroke="#333" stroke-width="1"/>
<line x1="229.8" y1="57.65" x2="232.00" y2="57.65" stroke="#333" stroke-width="1"/>
<line x1="229.8" y1="35.60" x2="233.20" y2="35.60" stroke="#333" stroke-width="1"/>
<path d="M230.00,211.80 L230.32,211.79 L230.64,211.79 L230.96,211.79 L231.29,211.79 L231.61,211.78 L231.92,211.76 L232.22,211.74 L232.50,211.70 L232.72,211.67 L232.94,211.65 L233.14,211.62 L233.35,211.59 L233.54,211.54 L233.73,211.47 L233.92,211.36 L234.10,211.20 L234.49,210.67 L234.84,209.94 L235.16,209.03 L235.46,207.98 L235.74,206.82 L236.00,205.58 L236.25,204.30 L236.50,203.00 L236.86,200.77 L237.17,198.29 L237.43,195.61 L237.66,192.76 L237.87,189.80 L238.07,186.78 L238.27,183.73 L238.50,180.70 L238.78,177.14 L239.04,173.45 L239.31,169.68 L239.57,165.84 L239.83,161.97 L240.09,158.09 L240.34,154.22 L240.60,150.40 L240.86,146.60 L241.12,142.80 L241.38,139.00 L241.64,135.19 L241.90,131.39 L242.14,127.59 L242.38,123.79 L242.60,120.00 L242.80,116.21 L242.98,112.37 L243.15,108.52 L243.31,104.68 L243.47,100.89 L243.64,97.15 L243.81,93.52 L244.00,90.00 L244.17,87.11 L244.34,84.30 L244.52,81.55 L244.70,78.86 L244.89,76.20 L245.08,73.56 L245.29,70.93 L245.50,68.30 L245.71,65.80 L245.93,63.30 L246.16,60.81 L246.40,58.34 L246.64,55.90 L246.89,53.49 L247.14,51.12 L247.40,48.80 L247.62,46.73 L247.82,44.64 L248.01,42.56 L248.22,40.52 L248.45,38.55 L248.71,36.66 L249.02,34.91 L249.40,33.30 L249.70,32.28 L250.01,31.31 L250.35,30.39 L250.71,29.53 L251.09,28.70 L251.48,27.93 L251.88,27.19 L252.30,26.50 L252.63,25.97 L252.97,25.45 L253.32,24.93 L253.67,24.45 L254.04,24.02 L254.41,23.66 L254.80,23.38 L255.20,23.20 L255.54,23.15 L255.88,23.18 L256.23,23.28 L256.59,23.42 L256.96,23.58 L257.33,23.74 L257.71,23.89 L258.10,24.00 L258.56,24.08 L259.03,24.13 L259.52,24.17 L260.01,24.20 L260.51,24.25 L261.01,24.32 L261.51,24.44 L262.00,24.60 L262.59,24.87 L263.17,25.20 L263.75,25.59 L264.33,26.01 L264.92,26.46 L265.52,26.94 L266.15,27.42 L266.80,27.90 L267.68,28.55 L268.58,29.24 L269.51,29.97 L270.47,30.73 L271.46,31.49 L272.48,32.25 L273.52,32.99 L274.60,33.70 L275.87,34.49 L277.21,35.30 L278.58,36.10 L280.00,36.89 L281.43,37.65 L282.86,38.36 L284.29,39.02 L285.70,39.60 L286.98,40.07 L288.26,40.50 L289.54,40.87 L290.81,41.21 L292.10,41.52 L293.39,41.80 L294.69,42.06 L296.00,42.30 L297.34,42.52 L298.69,42.71 L300.05,42.88 L301.41,43.01 L302.78,43.13 L304.17,43.23 L305.58,43.32 L307.00,43.40 L308.56,43.47 L310.14,43.53 L311.73,43.57 L313.35,43.59 L314.98,43.59 L316.63,43.57 L318.30,43.54 L320.00,43.50 L321.96,43.43 L324.03,43.33 L326.15,43.22 L328.29,43.08 L330.39,42.93 L332.40,42.76 L334.29,42.58 L336.00,42.40 L337.05,42.26 L338.03,42.12 L338.95,41.96 L339.83,41.80 L340.69,41.64 L341.54,41.48 L342.41,41.33 L343.30,41.20 L344.21,41.08 L345.12,40.97 L346.04,40.88 L346.95,40.78 L347.87,40.69 L348.78,40.60 L349.69,40.50 L350.60,40.40 L351.51,40.29 L352.42,40.17 L353.33,40.04 L354.24,39.92 L355.14,39.80 L356.04,39.69 L356.93,39.58 L357.80,39.50 L358.59,39.44 L359.36,39.40 L360.12,39.37 L360.87,39.35 L361.63,39.32 L362.40,39.29 L363.19,39.26 L364.00,39.20 L364.98,39.11 L365.99,39.01 L367.03,38.90 L368.08,38.77 L369.14,38.65 L370.20,38.53 L371.26,38.41 L372.30,38.30 L373.33,38.20 L374.35,38.11 L375.38,38.02 L376.40,37.93 L377.42,37.85 L378.45,37.76 L379.47,37.68 L380.50,37.60 L381.54,37.52 L382.59,37.44 L383.65,37.37 L384.70,37.30 L385.75,37.23 L386.79,37.15 L387.80,37.08 L388.80,37.00 L389.67,36.93 L390.53,36.85 L391.37,36.78 L392.20,36.70 L393.02,36.63 L393.84,36.55 L394.67,36.48 L395.50,36.40" fill="none" stroke="#000" stroke-width="1.2" stroke-linejoin="round"/>
<path d="M230.00,211.80 L230.52,211.83 L231.06,211.90 L231.61,211.99 L232.15,212.07 L232.68,212.12 L233.19,212.10 L233.66,212.01 L234.10,211.80 L234.62,211.34 L235.08,210.72 L235.49,209.95 L235.86,209.07 L236.20,208.10 L236.51,207.08 L236.81,206.04 L237.10,205.00 L237.47,203.52 L237.78,201.92 L238.04,200.23 L238.27,198.45 L238.48,196.62 L238.67,194.74 L238.88,192.82 L239.10,190.90 L239.38,188.53 L239.64,186.03 L239.90,183.46 L240.16,180.84 L240.42,178.21 L240.67,175.60 L240.93,173.05 L241.20,170.60 L241.43,168.47 L241.66,166.36 L241.87,164.28 L242.10,162.23 L242.33,160.21 L242.59,158.23 L242.88,156.29 L243.20,154.40 L243.51,152.77 L243.83,151.17 L244.16,149.59 L244.52,148.04 L244.90,146.53 L245.30,145.06 L245.73,143.65 L246.20,142.30 L246.60,141.19 L247.02,140.05 L247.44,138.93 L247.89,137.85 L248.36,136.85 L248.87,135.95 L249.41,135.19 L250.00,134.60 L250.43,134.29 L250.88,134.04 L251.36,133.84 L251.85,133.69 L252.34,133.60 L252.84,133.55 L253.33,133.55 L253.80,133.60 L254.29,133.72 L254.76,133.94 L255.22,134.22 L255.67,134.55 L256.14,134.91 L256.63,135.29 L257.15,135.65 L257.70,136.00 L258.55,136.48 L259.48,137.00 L260.47,137.54 L261.49,138.09 L262.52,138.63 L263.54,139.14 L264.50,139.60 L265.40,140.00 L266.02,140.25 L266.61,140.48 L267.19,140.68 L267.75,140.87 L268.30,141.04 L268.86,141.20 L269.42,141.35 L270.00,141.50 L270.60,141.64 L271.21,141.77 L271.82,141.89 L272.44,142.00 L273.05,142.10 L273.67,142.20 L274.29,142.30 L274.90,142.40 L275.51,142.48 L276.14,142.52 L276.78,142.55 L277.42,142.58 L278.03,142.63 L278.63,142.73 L279.19,142.87 L279.70,143.10 L280.14,143.40 L280.54,143.77 L280.90,144.20 L281.25,144.66 L281.58,145.14 L281.91,145.61 L282.24,146.07 L282.60,146.50 L282.96,146.88 L283.31,147.26 L283.67,147.63 L284.03,148.00 L284.40,148.36 L284.76,148.71 L285.13,149.06 L285.50,149.40 L285.86,149.72 L286.22,150.03 L286.59,150.33 L286.96,150.62 L287.33,150.91 L287.69,151.21 L288.05,151.50 L288.40,151.80 L288.72,152.12 L289.03,152.48 L289.33,152.85 L289.64,153.22 L289.94,153.56 L290.25,153.83 L290.57,154.02 L290.90,154.10 L291.29,154.04 L291.69,153.87 L292.10,153.59 L292.52,153.22 L292.95,152.80 L293.39,152.34 L293.84,151.87 L294.30,151.40 L295.02,150.64 L295.76,149.79 L296.52,148.85 L297.30,147.84 L298.11,146.79 L298.95,145.70 L299.81,144.60 L300.70,143.50 L301.89,142.07 L303.16,140.58 L304.47,139.03 L305.83,137.44 L307.21,135.83 L308.59,134.21 L309.96,132.60 L311.30,131.00 L312.64,129.39 L313.99,127.78 L315.34,126.16 L316.69,124.53 L318.03,122.90 L319.37,121.27 L320.69,119.64 L322.00,118.00 L323.30,116.35 L324.62,114.66 L325.95,112.95 L327.26,111.24 L328.54,109.57 L329.77,107.95 L330.93,106.42 L332.00,105.00 L332.70,104.07 L333.34,103.20 L333.96,102.38 L334.54,101.58 L335.12,100.80 L335.69,100.02 L336.28,99.22 L336.90,98.40 L337.57,97.51 L338.25,96.62 L338.94,95.72 L339.63,94.81 L340.32,93.90 L341.02,93.00 L341.71,92.10 L342.40,91.20 L343.07,90.32 L343.75,89.43 L344.41,88.54 L345.08,87.66 L345.76,86.78 L346.43,85.90 L347.11,85.05 L347.80,84.20 L348.47,83.39 L349.15,82.59 L349.83,81.79 L350.51,81.01 L351.20,80.23 L351.90,79.47 L352.60,78.73 L353.30,78.00 L353.97,77.33 L354.65,76.68 L355.34,76.05 L356.03,75.42 L356.72,74.81 L357.41,74.20 L358.11,73.60 L358.80,73.00 L359.47,72.42 L360.13,71.85 L360.78,71.28 L361.44,70.72 L362.11,70.16 L362.79,69.61 L363.48,69.05 L364.20,68.50 L365.01,67.90 L365.85,67.30 L366.71,66.70 L367.59,66.11 L368.47,65.52 L369.33,64.94 L370.18,64.36 L371.00,63.80 L371.70,63.31 L372.36,62.82 L373.01,62.35 L373.65,61.88 L374.30,61.41 L374.97,60.94 L375.66,60.47 L376.40,60.00 L377.34,59.43 L378.34,58.84 L379.39,58.25 L380.46,57.66 L381.53,57.08 L382.59,56.52 L383.62,55.99 L384.60,55.50 L385.37,55.12 L386.12,54.77 L386.85,54.43 L387.57,54.10 L388.29,53.79 L388.99,53.49 L389.70,53.19 L390.40,52.90 L391.05,52.64 L391.69,52.39 L392.33,52.15 L392.97,51.92 L393.60,51.69 L394.23,51.46 L394.86,51.23 L395.50,51.00" fill="none" stroke="#ff0000" stroke-width="1.2" stroke-linejoin="round"/>
<path d="M230.00,211.80 L230.91,211.85 L231.84,211.98 L232.79,212.14 L233.73,212.28 L234.65,212.36 L235.53,212.34 L236.35,212.17 L237.10,211.80 L238.00,210.88 L238.74,209.55 L239.36,207.90 L239.92,206.06 L240.43,204.14 L240.96,202.25 L241.54,200.50 L242.20,199.00 L242.77,197.92 L243.35,196.82 L243.93,195.74 L244.53,194.71 L245.15,193.77 L245.80,192.97 L246.48,192.33 L247.20,191.90 L247.78,191.74 L248.39,191.73 L249.03,191.82 L249.67,191.98 L250.33,192.19 L250.99,192.40 L251.65,192.58 L252.30,192.70 L252.97,192.78 L253.64,192.88 L254.31,192.98 L254.99,193.06 L255.67,193.13 L256.35,193.16 L257.02,193.16 L257.70,193.10 L258.42,192.99 L259.14,192.85 L259.86,192.66 L260.58,192.44 L261.30,192.18 L262.01,191.89 L262.71,191.56 L263.40,191.20 L264.15,190.73 L264.87,190.17 L265.58,189.56 L266.29,188.91 L266.99,188.25 L267.71,187.59 L268.44,186.97 L269.20,186.40 L270.00,185.85 L270.83,185.28 L271.68,184.71 L272.54,184.17 L273.40,183.67 L274.25,183.23 L275.09,182.86 L275.90,182.60 L276.53,182.50 L277.16,182.50 L277.78,182.56 L278.40,182.66 L279.01,182.74 L279.59,182.79 L280.16,182.75 L280.70,182.60 L281.25,182.32 L281.78,181.96 L282.28,181.54 L282.77,181.05 L283.23,180.52 L283.67,179.94 L284.10,179.33 L284.50,178.70 L284.98,177.82 L285.41,176.86 L285.80,175.83 L286.15,174.74 L286.49,173.60 L286.82,172.42 L287.15,171.22 L287.50,170.00 L287.94,168.42 L288.37,166.75 L288.79,165.01 L289.20,163.23 L289.62,161.43 L290.04,159.64 L290.46,157.89 L290.90,156.20 L291.32,154.71 L291.74,153.26 L292.17,151.83 L292.60,150.42 L293.04,149.01 L293.47,147.58 L293.89,146.11 L294.30,144.60 L294.74,142.84 L295.18,141.01 L295.61,139.13 L296.03,137.23 L296.45,135.35 L296.86,133.49 L297.28,131.70 L297.70,130.00 L298.04,128.66 L298.37,127.36 L298.70,126.10 L299.02,124.86 L299.36,123.65 L299.71,122.44 L300.09,121.23 L300.50,120.00 L300.96,118.73 L301.45,117.46 L301.97,116.19 L302.50,114.92 L303.05,113.66 L303.61,112.42 L304.16,111.20 L304.70,110.00 L305.20,108.93 L305.70,107.87 L306.21,106.84 L306.72,105.81 L307.23,104.80 L307.73,103.79 L308.22,102.80 L308.70,101.80 L309.13,100.88 L309.56,99.97 L309.98,99.07 L310.40,98.18 L310.81,97.29 L311.21,96.40 L311.61,95.50 L312.00,94.60 L312.38,93.69 L312.74,92.78 L313.10,91.87 L313.45,90.95 L313.80,90.04 L314.16,89.12 L314.52,88.21 L314.90,87.30 L315.29,86.39 L315.69,85.50 L316.08,84.61 L316.49,83.72 L316.90,82.82 L317.33,81.90 L317.76,80.97 L318.20,80.00 L318.73,78.81 L319.29,77.56 L319.85,76.27 L320.43,74.96 L321.01,73.66 L321.61,72.38 L322.20,71.16 L322.80,70.00 L323.31,69.06 L323.82,68.15 L324.33,67.27 L324.85,66.41 L325.37,65.57 L325.90,64.76 L326.44,63.97 L327.00,63.20 L327.51,62.53 L328.02,61.89 L328.55,61.26 L329.08,60.65 L329.62,60.06 L330.17,59.49 L330.73,58.94 L331.30,58.40 L331.86,57.91 L332.44,57.43 L333.03,56.97 L333.63,56.52 L334.23,56.10 L334.83,55.68 L335.42,55.28 L336.00,54.90 L336.51,54.57 L337.01,54.26 L337.51,53.96 L338.00,53.67 L338.50,53.40 L339.00,53.12 L339.50,52.86 L340.00,52.60 L340.49,52.35 L340.99,52.11 L341.49,51.88 L341.99,51.65 L342.49,51.43 L342.99,51.21 L343.50,51.00 L344.00,50.80 L344.50,50.60 L344.99,50.42 L345.49,50.23 L345.99,50.05 L346.49,49.88 L346.99,49.71 L347.50,49.55 L348.00,49.40 L348.50,49.25 L349.00,49.11 L349.49,48.98 L349.99,48.85 L350.49,48.73 L351.00,48.61 L351.50,48.50 L352.00,48.40 L352.49,48.30 L352.98,48.22 L353.46,48.14 L353.95,48.06 L354.44,47.99 L354.94,47.92 L355.46,47.86 L356.00,47.80 L356.69,47.73 L357.39,47.67 L358.12,47.62 L358.87,47.57 L359.63,47.52 L360.41,47.48 L361.20,47.44 L362.00,47.40 L362.91,47.35 L363.81,47.31 L364.72,47.27 L365.65,47.23 L366.62,47.20 L367.66,47.16 L368.78,47.13 L370.00,47.10 L372.50,47.05 L375.36,47.02 L378.51,46.99 L381.85,46.97 L385.31,46.96 L388.79,46.94 L392.21,46.92 L395.50,46.90" fill="none" stroke="#00ff00" stroke-width="1.2" stroke-linejoin="round"/>
<path d="M230.00,211.80 L231.17,211.85 L232.39,211.96 L233.62,212.11 L234.85,212.24 L236.03,212.31 L237.16,212.29 L238.19,212.13 L239.10,211.80 L239.78,211.32 L240.37,210.68 L240.88,209.93 L241.34,209.10 L241.78,208.25 L242.22,207.42 L242.68,206.66 L243.20,206.00 L243.68,205.50 L244.17,205.01 L244.68,204.53 L245.19,204.08 L245.70,203.67 L246.21,203.32 L246.71,203.02 L247.20,202.80 L247.55,202.70 L247.89,202.65 L248.22,202.64 L248.55,202.66 L248.88,202.68 L249.23,202.71 L249.60,202.72 L250.00,202.70 L250.63,202.65 L251.32,202.61 L252.05,202.57 L252.81,202.50 L253.59,202.41 L254.35,202.27 L255.09,202.07 L255.80,201.80 L256.55,201.41 L257.28,200.93 L257.98,200.38 L258.68,199.77 L259.37,199.12 L260.07,198.43 L260.77,197.72 L261.50,197.00 L262.44,196.05 L263.39,195.02 L264.36,193.93 L265.34,192.80 L266.32,191.65 L267.30,190.50 L268.26,189.38 L269.20,188.30 L270.06,187.31 L270.92,186.30 L271.77,185.28 L272.62,184.29 L273.45,183.31 L274.28,182.38 L275.10,181.51 L275.90,180.70 L276.54,180.14 L277.18,179.65 L277.84,179.21 L278.48,178.78 L279.10,178.35 L279.68,177.90 L280.22,177.39 L280.70,176.80 L281.14,176.09 L281.51,175.33 L281.83,174.52 L282.11,173.68 L282.36,172.80 L282.60,171.89 L282.84,170.95 L283.10,170.00 L283.43,168.77 L283.76,167.47 L284.07,166.13 L284.37,164.74 L284.66,163.33 L284.95,161.92 L285.23,160.50 L285.50,159.10 L285.78,157.69 L286.04,156.29 L286.30,154.89 L286.55,153.48 L286.80,152.05 L287.04,150.58 L287.27,149.07 L287.50,147.50 L287.76,145.47 L288.00,143.32 L288.23,141.09 L288.45,138.81 L288.67,136.53 L288.90,134.27 L289.14,132.09 L289.40,130.00 L289.64,128.27 L289.89,126.58 L290.15,124.93 L290.41,123.31 L290.68,121.71 L290.95,120.13 L291.23,118.56 L291.50,117.00 L291.75,115.58 L291.99,114.17 L292.24,112.78 L292.49,111.40 L292.75,110.04 L293.01,108.68 L293.30,107.34 L293.60,106.00 L293.91,104.72 L294.23,103.44 L294.57,102.17 L294.91,100.91 L295.27,99.66 L295.64,98.43 L296.02,97.21 L296.40,96.00 L296.77,94.87 L297.15,93.75 L297.54,92.65 L297.94,91.55 L298.35,90.47 L298.76,89.40 L299.18,88.34 L299.60,87.30 L300.00,86.35 L300.40,85.42 L300.81,84.50 L301.22,83.59 L301.64,82.69 L302.06,81.79 L302.48,80.90 L302.90,80.00 L303.31,79.11 L303.73,78.22 L304.14,77.33 L304.56,76.44 L304.98,75.56 L305.41,74.70 L305.85,73.84 L306.30,73.00 L306.74,72.22 L307.18,71.45 L307.63,70.70 L308.09,69.95 L308.56,69.21 L309.03,68.48 L309.51,67.74 L310.00,67.00 L310.51,66.24 L311.04,65.48 L311.57,64.71 L312.11,63.95 L312.65,63.20 L313.20,62.45 L313.75,61.72 L314.30,61.00 L314.82,60.33 L315.33,59.65 L315.84,58.98 L316.36,58.33 L316.88,57.68 L317.41,57.06 L317.95,56.47 L318.50,55.90 L319.01,55.41 L319.54,54.95 L320.07,54.50 L320.61,54.08 L321.16,53.67 L321.70,53.27 L322.25,52.88 L322.80,52.50 L323.31,52.15 L323.82,51.81 L324.33,51.47 L324.85,51.15 L325.37,50.84 L325.90,50.55 L326.44,50.27 L327.00,50.00 L327.62,49.73 L328.26,49.48 L328.92,49.24 L329.60,49.02 L330.27,48.82 L330.93,48.63 L331.58,48.45 L332.20,48.30 L332.70,48.19 L333.18,48.09 L333.65,48.00 L334.11,47.93 L334.58,47.86 L335.04,47.80 L335.51,47.75 L336.00,47.70 L336.53,47.65 L337.08,47.60 L337.63,47.56 L338.18,47.53 L338.74,47.50 L339.30,47.49 L339.85,47.49 L340.40,47.50 L340.94,47.53 L341.48,47.57 L342.02,47.63 L342.55,47.69 L343.09,47.77 L343.62,47.85 L344.16,47.92 L344.70,48.00 L345.25,48.08 L345.80,48.15 L346.35,48.23 L346.90,48.31 L347.45,48.40 L348.00,48.49 L348.55,48.59 L349.10,48.70 L349.65,48.82 L350.20,48.95 L350.76,49.08 L351.31,49.22 L351.86,49.37 L352.40,49.51 L352.95,49.66 L353.50,49.80 L354.03,49.94 L354.56,50.09 L355.08,50.23 L355.60,50.38 L356.13,50.52 L356.67,50.66 L357.22,50.78 L357.80,50.90 L358.52,51.01 L359.28,51.10 L360.07,51.17 L360.87,51.23 L361.68,51.29 L362.48,51.37 L363.25,51.47 L364.00,51.60 L364.65,51.75 L365.29,51.92 L365.91,52.11 L366.52,52.30 L367.13,52.51 L367.74,52.71 L368.36,52.91 L369.00,53.10 L369.69,53.29 L370.39,53.49 L371.10,53.69 L371.82,53.88 L372.54,54.07 L373.26,54.26 L373.98,54.43 L374.70,54.60 L375.42,54.76 L376.15,54.91 L376.89,55.05 L377.62,55.18 L378.35,55.32 L379.08,55.44 L379.79,55.57 L380.50,55.70 L381.14,55.82 L381.78,55.95 L382.40,56.08 L383.02,56.20 L383.64,56.32 L384.26,56.43 L384.88,56.52 L385.50,56.60 L386.11,56.66 L386.72,56.71 L387.33,56.74 L387.94,56.77 L388.56,56.78 L389.17,56.79 L389.78,56.80 L390.40,56.80 L391.03,56.79 L391.67,56.78 L392.31,56.75 L392.94,56.73 L393.58,56.69 L394.22,56.66 L394.86,56.63 L395.50,56.60" fill="none" stroke="#0000ff" stroke-width="1.2" stroke-linejoin="round"/>
<rect x="229.8" y="14.0" width="165.80" height="198.00" fill="none" stroke="#444" stroke-width="1"/>
<text x="44.5" y="427.6" font-family='"Liberation Serif", serif' font-size="16" font-weight="bold" font-style="normal" text-anchor="end" fill="#000" >0,0</text>
<text x="44.5" y="344.9" font-family='"Liberation Serif", serif' font-size="16" font-weight="bold" font-style="normal" text-anchor="end" fill="#000" >0,4</text>
<text x="44.5" y="262.3" font-family='"Liberation Serif", serif' font-size="16" font-weight="bold" font-style="normal" text-anchor="end" fill="#000" >0,8</text>
<text x="44.5" y="179.6" font-family='"Liberation Serif", serif' font-size="16" font-weight="bold" font-style="normal" text-anchor="end" fill="#000" >1,2</text>
<text x="44.5" y="97.0" font-family='"Liberation Serif", serif' font-size="16" font-weight="bold" font-style="normal" text-anchor="end" fill="#000" >1,6</text>
<text x="44.5" y="14.3" font-family='"Liberation Serif", serif' font-size="16" font-weight="bold" font-style="normal" text-anchor="end" fill="#000" >2,0</text>
<text x="50.9" y="441.6" font-family='"Liberation Serif", serif' font-size="15.6" font-weight="bold" font-style="normal" text-anchor="middle" fill="#000" >300</text>
<text x="120.5" y="441.6" font-family='"Liberation Serif", serif' font-size="15.6" font-weight="bold" font-style="normal" text-anchor="middle" fill="#000" >400</text>
<text x="190.1" y="441.6" font-family='"Liberation Serif", serif' font-size="15.6" font-weight="bold" font-style="normal" text-anchor="middle" fill="#000" >500</text>
<text x="259.7" y="441.6" font-family='"Liberation Serif", serif' font-size="15.6" font-weight="bold" font-style="normal" text-anchor="middle" fill="#000" >600</text>
<text x="329.3" y="441.6" font-family='"Liberation Serif", serif' font-size="15.6" font-weight="bold" font-style="normal" text-anchor="middle" fill="#000" >700</text>
<text x="398.9" y="441.6" font-family='"Liberation Serif", serif' font-size="15.6" font-weight="bold" font-style="normal" text-anchor="middle" fill="#000" >800</text>
<text x="230.5" y="465.4" font-family='"Liberation Serif", serif' font-size="15.5" font-weight="bold" font-style="normal" text-anchor="middle" fill="#000" >Wavelength (nm)</text>
<text transform="translate(13.4,219) rotate(-90)" x="0" y="0" font-family='"Liberation Serif", serif' font-size="15.9" font-weight="bold" text-anchor="middle">Absorption (arb. units)</text>
<text x="77.7" y="122.6" font-family='"Liberation Sans", sans-serif' font-size="13.6" fill="#111">(<tspan font-style="italic" dx="0.5">c</tspan><tspan dx="0.5">)</tspan></text>
<text x="79.0" y="197.0" font-family='"Liberation Sans", sans-serif' font-size="13.6" fill="#111">(<tspan font-style="italic" dx="0.5">b</tspan><tspan dx="0.5">)</tspan></text>
<text x="102.4" y="310.4" font-family='"Liberation Sans", sans-serif' font-size="13.6" fill="#111">(<tspan font-style="italic" dx="0.5">a</tspan><tspan dx="0.5">)</tspan></text>
<text x="99.2" y="399.0" font-family='"Liberation Serif", serif' font-size="15.7" font-weight="bold" font-style="normal" text-anchor="start" fill="#000" >FTO</text>
<text x="333.3" y="320.1" font-family='"Liberation Sans", sans-serif' font-size="14.0" fill="#111">(<tspan font-style="italic" dx="0.5">a</tspan><tspan dx="0.5">)</tspan></text>
<text x="352.8" y="319.8" font-family='"Liberation Serif", serif' font-size="15.6" font-weight="bold">-</text>
<text x="360.8" y="319.8" font-family='"Liberation Serif", serif' font-size="15.6" font-weight="bold" >0.4</text>
<text x="384.4" y="319.8" font-family='"Liberation Serif", serif' font-size="15.6" font-weight="bold">V</text>
<text x="333.3" y="340.9" font-family='"Liberation Sans", sans-serif' font-size="14.0" fill="#111">(<tspan font-style="italic" dx="0.5">b</tspan><tspan dx="0.5">)</tspan></text>
<text x="352.8" y="340.6" font-family='"Liberation Serif", serif' font-size="15.6" font-weight="bold">-</text>
<text x="360.8" y="340.6" font-family='"Liberation Serif", serif' font-size="15.6" font-weight="bold" >0.5</text>
<text x="384.4" y="340.6" font-family='"Liberation Serif", serif' font-size="15.6" font-weight="bold">V</text>
<text x="333.3" y="361.7" font-family='"Liberation Sans", sans-serif' font-size="14.0" fill="#111">(<tspan font-style="italic" dx="0.5">c</tspan><tspan dx="0.5">)</tspan></text>
<text x="352.8" y="361.4" font-family='"Liberation Serif", serif' font-size="15.6" font-weight="bold">-</text>
<text x="360.8" y="361.4" font-family='"Liberation Serif", serif' font-size="15.6" font-weight="bold" >0.6</text>
<text x="384.4" y="361.4" font-family='"Liberation Serif", serif' font-size="15.6" font-weight="bold">V</text>
<text x="226.8" y="214.6" font-family='"Liberation Serif", serif' font-size="10.2" font-weight="normal" font-style="normal" text-anchor="end" fill="#111" >0</text>
<text x="226.8" y="170.5" font-family='"Liberation Serif", serif' font-size="10.2" font-weight="normal" font-style="normal" text-anchor="end" fill="#111" >20</text>
<text x="226.8" y="126.4" font-family='"Liberation Serif", serif' font-size="10.2" font-weight="normal" font-style="normal" text-anchor="end" fill="#111" >40</text>
<text x="226.8" y="82.3" font-family='"Liberation Serif", serif' font-size="10.2" font-weight="normal" font-style="normal" text-anchor="end" fill="#111" >60</text>
<text x="226.8" y="38.2" font-family='"Liberation Serif", serif' font-size="10.2" font-weight="normal" font-style="normal" text-anchor="end" fill="#111" >80</text>
<text x="235.6" y="222.6" font-family='"Liberation Serif", serif' font-size="10.2" font-weight="normal" font-style="normal" text-anchor="middle" fill="#111" >300</text>
<text x="264.8" y="222.6" font-family='"Liberation Serif", serif' font-size="10.2" font-weight="normal" font-style="normal" text-anchor="middle" fill="#111" >400</text>
<text x="294.0" y="222.6" font-family='"Liberation Serif", serif' font-size="10.2" font-weight="normal" font-style="normal" text-anchor="middle" fill="#111" >500</text>
<text x="323.1" y="222.6" font-family='"Liberation Serif", serif' font-size="10.2" font-weight="normal" font-style="normal" text-anchor="middle" fill="#111" >600</text>
<text x="352.3" y="222.6" font-family='"Liberation Serif", serif' font-size="10.2" font-weight="normal" font-style="normal" text-anchor="middle" fill="#111" >700</text>
<text x="381.5" y="222.6" font-family='"Liberation Serif", serif' font-size="10.2" font-weight="normal" font-style="normal" text-anchor="middle" fill="#111" >800</text>
<text x="320" y="235.3" font-family='"Liberation Serif", serif' font-size="13.4" font-weight="bold" font-style="normal" text-anchor="middle" fill="#000" >Wavelength (nm)</text>
<text transform="translate(208.5,116.2) rotate(-90)" x="0" y="0" font-family='"Liberation Serif", serif' font-size="13.2" font-weight="bold" text-anchor="middle">Transmission (%)</text>
<text x="270.7" y="24.5" font-family='"Liberation Sans", sans-serif' font-size="8.8" font-weight="bold" font-style="normal" text-anchor="start" fill="#000" >FTO</text>
<text x="298.2" y="97.3" font-family='"Liberation Sans", sans-serif' font-size="8.8" fill="#222">(<tspan font-style="italic" dx="0.2">c</tspan><tspan dx="0.3">)</tspan></text>
<text x="314.2" y="97.3" font-family='"Liberation Sans", sans-serif' font-size="8.8" fill="#222">(<tspan font-style="italic" dx="0.2">b</tspan><tspan dx="0.3">)</tspan></text>
<text x="345.6" y="97.3" font-family='"Liberation Sans", sans-serif' font-size="8.8" fill="#222">(<tspan font-style="italic" dx="0.2">a</tspan><tspan dx="0.3">)</tspan></text>
<text x="334.8" y="173.5" font-family='"Liberation Sans", sans-serif' font-size="10.4" fill="#000">(<tspan font-style="italic" dx="0.35">a</tspan><tspan dx="0.35">)</tspan></text>
<text x="350.4" y="173.2" font-family='"Liberation Serif", serif' font-size="10.6" font-weight="bold">-</text>
<text x="356.6" y="173.2" font-family='"Liberation Serif", serif' font-size="10.6" font-weight="bold">0.4</text>
<text x="372.0" y="173.2" font-family='"Liberation Serif", serif' font-size="10.6" font-weight="bold">V</text>
<text x="334.8" y="186.6" font-family='"Liberation Sans", sans-serif' font-size="10.4" fill="#000">(<tspan font-style="italic" dx="0.35">b</tspan><tspan dx="0.35">)</tspan></text>
<text x="350.4" y="186.3" font-family='"Liberation Serif", serif' font-size="10.6" font-weight="bold">-</text>
<text x="356.6" y="186.3" font-family='"Liberation Serif", serif' font-size="10.6" font-weight="bold">0.5</text>
<text x="372.0" y="186.3" font-family='"Liberation Serif", serif' font-size="10.6" font-weight="bold">V</text>
<text x="334.8" y="199.7" font-family='"Liberation Sans", sans-serif' font-size="10.4" fill="#000">(<tspan font-style="italic" dx="0.35">c</tspan><tspan dx="0.35">)</tspan></text>
<text x="350.4" y="199.4" font-family='"Liberation Serif", serif' font-size="10.6" font-weight="bold">-</text>
<text x="356.6" y="199.4" font-family='"Liberation Serif", serif' font-size="10.6" font-weight="bold">0.6</text>
<text x="372.0" y="199.4" font-family='"Liberation Serif", serif' font-size="10.6" font-weight="bold">V</text>
</svg>
</body></html>
